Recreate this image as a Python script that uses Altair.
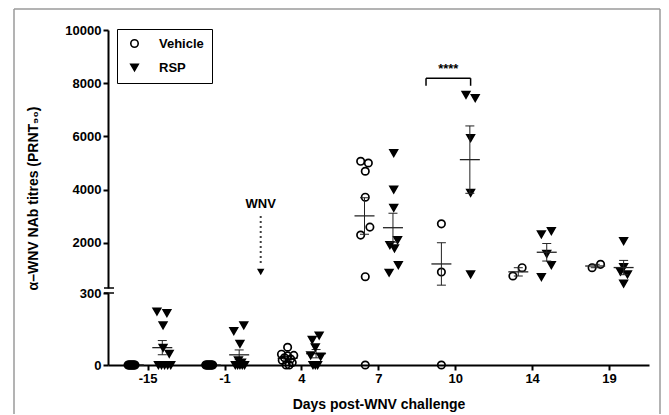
import altair as alt
import pandas as pd

# ---------------- data ----------------
days = ["-15", "-1", "4", "7", "10", "14", "19"]
groups = ["Vehicle", "RSP"]

vehicle_values = [
    [0, 0, 0, 0, 0, 0, 0, 0, 0, 0],
    [0, 0, 0, 0, 0, 0, 0, 0, 0, 0],
    [74, 45, 40, 38, 30, 25, 20, 10, 0, 0],
    [5064, 5000, 4689, 3714, 2589, 2289, 725, 0],
    [2712, 901, 0],
    [751, 1063],
    [1063, 1190],
]
vehicle_dx = [
    [-0.255, -0.245, -0.235, -0.225, -0.215, -0.205, -0.195, -0.185, -0.175, -0.165],
    [-0.245, -0.235, -0.225, -0.215, -0.205, -0.195, -0.185, -0.175, -0.165, -0.155],
    [-0.18, -0.26, -0.10, -0.18, -0.22, -0.14, -0.25, -0.12, -0.20, -0.16],
    [-0.23, -0.13, -0.17, -0.17, -0.11, -0.23, -0.17, -0.17],
    [-0.18, -0.18, -0.18],
    [-0.25, -0.13],
    [-0.22, -0.11],
]
rsp_values = [
    [223, 216, 165, 72, 47, 0, 0, 0, 0, 0],
    [165, 141, 88, 20, 10, 0, 0, 0, 0, 0],
    [123, 105, 74, 40, 35, 0, 0, 0],
    [5375, 4003, 3313, 2101, 1914, 1790, 1164, 875],
    [7565, 7438, 5938, 3875, 815],
    [2439, 2315, 1588, 1164, 714],
    [2064, 1089, 913, 815, 463],
]
rsp_dx = [
    [0.12, 0.25, 0.20, 0.20, 0.28, 0.14, 0.18, 0.22, 0.26, 0.30],
    [0.25, 0.12, 0.20, 0.18, 0.22, 0.14, 0.17, 0.20, 0.23, 0.26],
    [0.23, 0.14, 0.18, 0.12, 0.25, 0.15, 0.18, 0.21],
    [0.20, 0.20, 0.20, 0.25, 0.15, 0.21, 0.26, 0.14],
    [0.14, 0.26, 0.20, 0.20, 0.20],
    [0.25, 0.12, 0.19, 0.25, 0.12],
    [0.19, 0.19, 0.15, 0.24, 0.19],
]
group_offset = {"Vehicle": -0.18, "RSP": 0.19}

# annotations
wnv_label = ["WNV"]
wnv_x = [1.47]
wnv_text_y = [3440]
wnv_line_top = [3000]
wnv_line_bottom = [1130]
wnv_head_y = [900]

sig_label = ["****"]
sig_x1 = [3.62]
sig_x2 = [4.20]
sig_text_x = [3.91]
sig_top = [8188]
sig_bottom = [7903]
sig_text_y = [8540]

break_value = [300]
upper_ticks = [2000, 4000, 6000, 8000, 10000]
lower_ticks = [0, 300]

# ---------------- tables ----------------
rows = []
for i, d in enumerate(days):
    for v, dx in zip(vehicle_values[i], vehicle_dx[i]):
        rows.append(dict(idx=i, day=d, group="Vehicle", value=v, px=i + dx))
    for v, dx in zip(rsp_values[i], rsp_dx[i]):
        rows.append(dict(idx=i, day=d, group="RSP", value=v, px=i + dx))
df = pd.DataFrame(rows)

wnv_df = pd.DataFrame(dict(x=wnv_x, ty=wnv_text_y, y1=wnv_line_top, y2=wnv_line_bottom,
                           hy=wnv_head_y, label=wnv_label))
sig_df = pd.DataFrame(dict(x1=sig_x1, x2=sig_x2, tx=sig_text_x, top=sig_top,
                           bottom=sig_bottom, ty=sig_text_y, label=sig_label))
brk_df = pd.DataFrame(dict(b=break_value))
one_df = pd.DataFrame(dict(a=[0]))

# ---------------- styling ----------------
FONT = "Liberation Sans"
W = 541
H_UP = 258
H_LO = 72
XDOM = [-0.516, 6.52]
FRAME_L, FRAME_R = -94, 552
FRAME_COLOR = "#9a9a9a"

xsc = alt.Scale(domain=XDOM, nice=False, zero=False)
ysc_up = alt.Scale(domain=[300, 10000], nice=False, zero=False)
ysc_lo = alt.Scale(domain=[0, 300], nice=False)
shape_sc = alt.Scale(domain=groups, range=["circle", "triangle-down"])
fill_sc = alt.Scale(domain=groups, range=["transparent", "black"])
stroke_sc = alt.Scale(domain=groups, range=["black", "black"])

lab_arr = "[" + ",".join("'%s'" % d for d in days) + "]"
x_axis_lo = alt.Axis(values=list(range(len(days))), labelExpr=lab_arr + "[datum.value]",
                     title="Days post-WNV challenge", titlePadding=12)
y_axis_up = alt.Axis(values=upper_ticks, format="d", title="α–WNV NAb titres (PRNT₉₀)",
                     titleX=-75, titleY=168, titleBaseline="middle", titleAlign="center")
y_axis_lo = alt.Axis(values=lower_ticks, format="d", title=None)

leg = alt.Legend(orient="none", legendX=9, legendY=-1, title=None, strokeColor="black",
                 fillColor="white", padding=8, labelFont=FONT, labelFontSize=13,
                 labelFontWeight="bold", labelColor="black", symbolStrokeColor="black",
                 symbolStrokeWidth=1.6, symbolSize=55, rowPadding=10, labelOffset=18,
                 symbolOffset=3, labelExpr="datum.label + '\u00a0\u00a0\u00a0'")


def X(field, axis):
    return alt.X(field, type="quantitative", scale=xsc, axis=axis)


def Y(field, ysc, axis):
    return alt.Y(field, type="quantitative", scale=ysc, axis=axis)


def points(filter_expr, ysc, xaxis, yaxis, legend):
    return alt.Chart(df).transform_filter(filter_expr).mark_point(
        size=55, strokeWidth=1.7, opacity=1
    ).encode(
        x=X("px", xaxis),
        y=Y("value", ysc, yaxis),
        shape=alt.Shape("group:N", scale=shape_sc, legend=legend),
        fill=alt.Fill("group:N", scale=fill_sc, legend=legend),
        stroke=alt.Stroke("group:N", scale=stroke_sc, legend=legend),
    )


def stats(filter_expr, ysc, xaxis, yaxis):
    base = alt.Chart(df).transform_aggregate(
        mean="mean(value)", sd="stdev(value)", n="count()", groupby=["idx", "group"]
    ).transform_calculate(
        sem="datum.sd / sqrt(datum.n)",
        lo="datum.mean - datum.sem",
        hi="datum.mean + datum.sem",
        gx="datum.idx + (datum.group == 'Vehicle' ? %f : %f)" % (group_offset["Vehicle"], group_offset["RSP"]),
    ).transform_filter(filter_expr)
    rule = base.mark_rule(color="#222", strokeWidth=1).encode(
        x=X("gx", xaxis), y=Y("lo", ysc, yaxis), y2="hi:Q")
    cap_lo = base.mark_tick(orient="horizontal", size=9, thickness=1, color="#222", opacity=1).encode(
        x=X("gx", xaxis), y=Y("lo", ysc, yaxis))
    cap_hi = base.mark_tick(orient="horizontal", size=9, thickness=1, color="#222", opacity=1).encode(
        x=X("gx", xaxis), y=Y("hi", ysc, yaxis))
    mean = base.mark_tick(orient="horizontal", size=20, thickness=1.3, color="#222", opacity=1).encode(
        x=X("gx", xaxis), y=Y("mean", ysc, yaxis))
    return [rule, cap_lo, cap_hi, mean]


def breakmark(ysc, xaxis, yaxis):
    return alt.Chart(brk_df).mark_rule(color="black", strokeWidth=1.5).encode(
        x=alt.value(-4), x2=alt.value(6), y=Y("b", ysc, yaxis))


def vframe(xpix, y1, y2):
    return alt.Chart(one_df).mark_rule(color=FRAME_COLOR, strokeWidth=1.5).encode(
        x=alt.value(xpix), y=alt.value(y1), y2=alt.value(y2))


# ---------------- upper panel ----------------
wnv_text = alt.Chart(wnv_df).mark_text(font=FONT, fontSize=13, fontWeight="bold",
                                       color="black").encode(
    x=X("x", None), y=Y("ty", ysc_up, y_axis_up), text="label:N")
wnv_line = alt.Chart(wnv_df).mark_rule(color="black", strokeWidth=2, strokeDash=[1.5, 3.5]).encode(
    x=X("x", None), y=Y("y1", ysc_up, y_axis_up), y2="y2:Q")
wnv_head = alt.Chart(wnv_df).mark_point(shape="triangle-down", filled=True, size=55,
                                        color="black", opacity=1).encode(
    x=X("x", None), y=Y("hy", ysc_up, y_axis_up))

sig_h = alt.Chart(sig_df).mark_rule(color="black", strokeWidth=1.5).encode(
    x=X("x1", None), x2="x2:Q", y=Y("top", ysc_up, y_axis_up))
sig_l = alt.Chart(sig_df).mark_rule(color="black", strokeWidth=1.5).encode(
    x=X("x1", None), y=Y("top", ysc_up, y_axis_up), y2="bottom:Q")
sig_r = alt.Chart(sig_df).mark_rule(color="black", strokeWidth=1.5).encode(
    x=X("x2", None), y=Y("top", ysc_up, y_axis_up), y2="bottom:Q")
sig_t = alt.Chart(sig_df).mark_text(font=FONT, fontSize=13, fontWeight="bold", color="black").encode(
    x=X("tx", None), y=Y("ty", ysc_up, y_axis_up), text="label:N")

frame_t = alt.Chart(one_df).mark_rule(color=FRAME_COLOR, strokeWidth=1.5).encode(
    x=alt.value(FRAME_L), x2=alt.value(FRAME_R), y=alt.value(-21))

upper = alt.layer(
    points("datum.value >= 300", ysc_up, None, y_axis_up, leg),
    *stats("datum.idx >= 3", ysc_up, None, y_axis_up),
    wnv_text, wnv_line, wnv_head, sig_h, sig_l, sig_r, sig_t,
    breakmark(ysc_up, None, y_axis_up),
    frame_t, vframe(FRAME_L, -21, H_UP), vframe(FRAME_R, -21, H_UP),
).properties(width=W, height=H_UP)

# ---------------- lower panel ----------------
lower = alt.layer(
    *stats("datum.idx <= 2", ysc_lo, x_axis_lo, y_axis_lo),
    points("datum.value < 300", ysc_lo, x_axis_lo, y_axis_lo, None),
    breakmark(ysc_lo, x_axis_lo, y_axis_lo),
    vframe(FRAME_L, -5, 121), vframe(FRAME_R, -5, 121),
).properties(width=W, height=H_LO)

chart = alt.vconcat(upper, lower, spacing=5, bounds="flush").resolve_scale(
    y="independent"
).resolve_legend(
    shape="independent", fill="independent", stroke="independent"
).properties(
    padding={"left": 5, "top": 0, "right": 0, "bottom": 0}
).configure_view(
    stroke=None
).configure_axis(
    labelFont=FONT, labelFontWeight="bold", labelFontSize=13, labelColor="black",
    titleFont=FONT, titleFontWeight="bold", titleFontSize=14, titleColor="black",
    domainColor="black", domainWidth=2, tickColor="black", tickWidth=2, tickSize=5,
    grid=False, labelPadding=2,
)

chart.save("out.html", embed_options={"renderer": "svg", "actions": False})
